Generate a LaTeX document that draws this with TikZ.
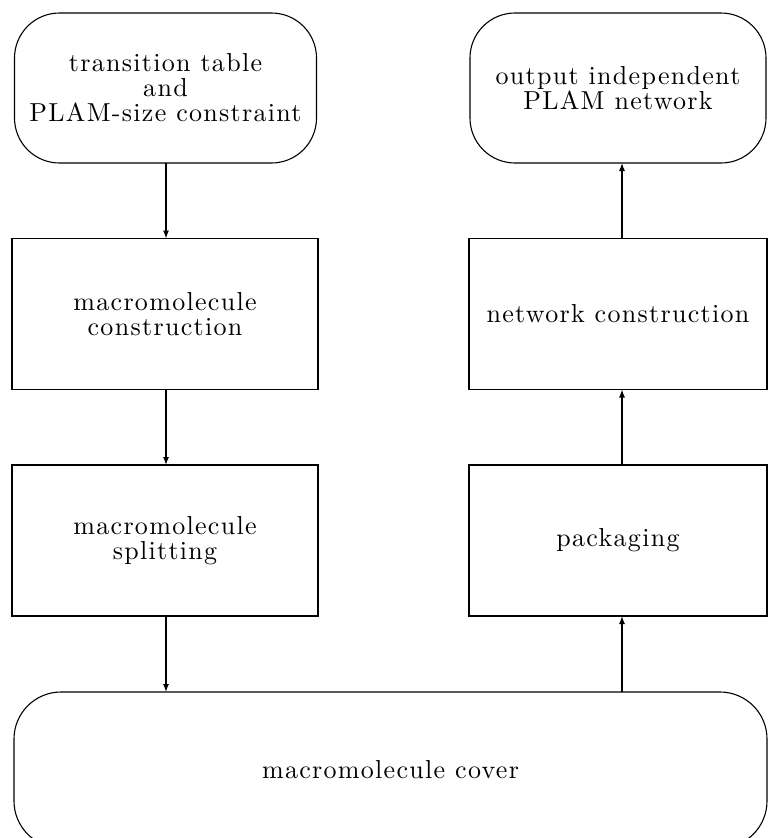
\documentclass[tikz,border=0pt]{standalone}
\usepackage{fontspec}
\setmainfont{lmroman10-regular.otf}[LetterSpace=5]
\usetikzlibrary{arrows.meta}
\begin{document}
\begin{tikzpicture}[x=1pt,y=-1pt,
  every node/.style={inner sep=0pt,outer sep=0pt,align=center,
    font=\fontsize{26}{25}\selectfont},
  procbox/.style={draw,line width=1.1pt,minimum width=306pt,minimum height=151pt},
  termbox/.style={draw,line width=1.1pt,rounded corners=45pt},
  arr/.style={line width=1.1pt,-{Latex[length=8pt,width=6pt]}}]
\useasboundingbox (0,0) rectangle (768,838);
\begin{scope}
\clip (0,0) rectangle (768,838);
\node[termbox,minimum width=302pt,minimum height=150pt] (tl) at (165.5,88)
  {transition table\\and\\PLAM-size constraint};
\node[termbox,minimum width=296pt,minimum height=150pt] (tr) at (618,88)
  {output independent\\PLAM network};
\node[procbox] (b1) at (165,314) {macromolecule\\construction};
\node[procbox] (b2) at (165,540.5) {macromolecule\\splitting};
\node[procbox,minimum width=298pt] (b3) at (618,314) {network construction};
\node[procbox,minimum width=298pt] (b4) at (618,540.5) {packaging};
\node[termbox,rounded corners=47pt,minimum width=753pt,minimum height=156pt] (cv) at (390.5,770)
  {macromolecule cover};
\end{scope}
\coordinate (lx) at (166,0);
\coordinate (rx) at (622,0);
\draw[arr] (tl.south -| lx) -- (b1.north -| lx);
\draw[arr] (b1.south -| lx) -- (b2.north -| lx);
\draw[arr] (b2.south -| lx) -- (cv.north -| lx);
\draw[arr] (cv.north -| rx) -- (b4.south -| rx);
\draw[arr] (b4.north -| rx) -- (b3.south -| rx);
\draw[arr] (b3.north -| rx) -- (tr.south -| rx);
\end{tikzpicture}
\end{document}
